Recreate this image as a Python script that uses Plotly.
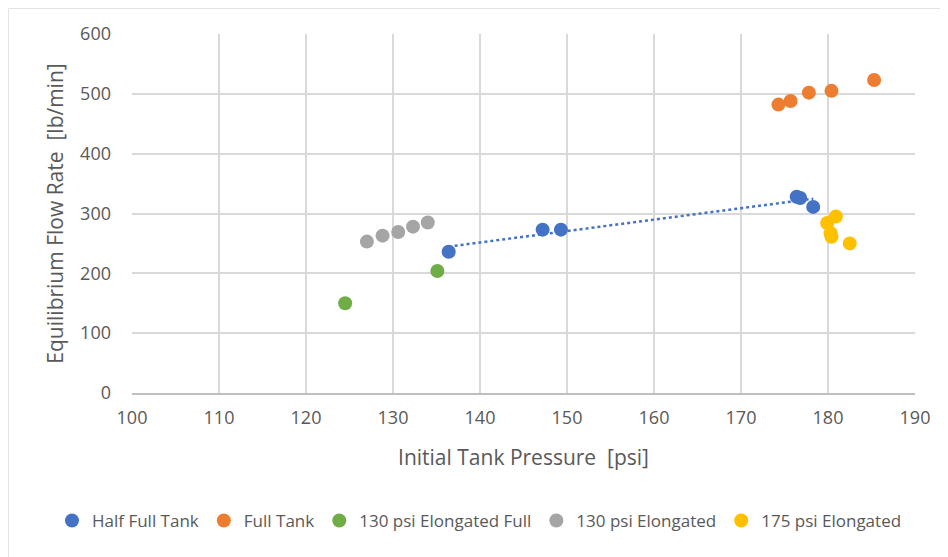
import numpy as np
import plotly.graph_objects as go

# Data
half_x = [136.4, 147.2, 149.3, 176.4, 176.8, 178.3]
half_y = [236, 273, 273, 328, 326, 311]

full_x = [174.3, 175.7, 177.8, 180.4, 185.3]
full_y = [482, 488, 502, 505, 523]

elong_full_x = [124.5, 135.1]
elong_full_y = [150, 204]

elong130_x = [127.0, 128.8, 130.6, 132.3, 134.0]
elong130_y = [253, 263, 269, 278, 285]

elong175_x = [180.9, 179.9, 180.3, 180.4, 182.5]
elong175_y = [295, 284, 267, 261, 250]

x_ticks = [100, 110, 120, 130, 140, 150, 160, 170, 180, 190]
y_ticks = [0, 100, 200, 300, 400, 500, 600]

colors = {
    "Half Full Tank": "#4472C4",
    "Full Tank": "#ED7D31",
    "130 psi Elongated Full": "#70AD47",
    "130 psi Elongated": "#A5A5A5",
    "175 psi Elongated": "#FFC000",
}

FONT = "Open Sans, Liberation Sans, sans-serif"
GRAY = "#595959"

W, H = 948, 557
L, R, T, B = 124, 41, 26, 172
PW, PH = W - L - R, H - T - B

fig = go.Figure()

series = [
    ("Half Full Tank", half_x, half_y),
    ("Full Tank", full_x, full_y),
    ("130 psi Elongated Full", elong_full_x, elong_full_y),
    ("130 psi Elongated", elong130_x, elong130_y),
    ("175 psi Elongated", elong175_x, elong175_y),
]

# Linear trendline for Half Full Tank
coef = np.polyfit(half_x, half_y, 1)
tx = np.array([min(half_x), max(half_x)])
ty = np.polyval(coef, tx)
fig.add_trace(go.Scatter(
    x=tx, y=ty, mode="lines",
    line=dict(color="#4472C4", width=2.5, dash="dot"),
    showlegend=False, hoverinfo="skip",
))

for name, xs, ys in series:
    fig.add_trace(go.Scatter(
        x=xs, y=ys, mode="markers", name=name,
        marker=dict(color=colors[name], size=14, line=dict(width=0)),
    ))

bx = (0.5 - L) / PW
by = 1 + (T - 0.5) / PH

fig.update_layout(
    width=W, height=H,
    margin=dict(l=L, r=R, t=T, b=B, autoexpand=False),
    paper_bgcolor="white", plot_bgcolor="white",
    font=dict(family=FONT, color=GRAY, size=18),
    legend=dict(
        orientation="h", xref="paper", yref="paper",
        x=(44 - L) / PW, xanchor="left", y=(PH + T - 513) / PH, yanchor="middle",
        font=dict(size=17, color=GRAY),
        itemwidth=30, tracegroupgap=0,
    ),
    xaxis=dict(
        range=[100, 190], tickvals=x_ticks, showgrid=True,
        gridcolor="#D9D9D9", gridwidth=1.5,
        showline=True, linecolor="#BFBFBF", linewidth=1.5,
        zeroline=False, ticks="", tickfont=dict(size=18, color=GRAY),
        ticklabelstandoff=8,
        title=dict(text="Initial Tank Pressure  [psi]", font=dict(size=21, color=GRAY), standoff=22),
    ),
    yaxis=dict(
        range=[0, 600], tickvals=y_ticks, showgrid=True,
        gridcolor="#D9D9D9", gridwidth=1.5,
        zeroline=False, ticks="", tickfont=dict(size=18, color=GRAY),
        ticklabelstandoff=20,
        title=dict(text="Equilibrium Flow Rate  [lb/min]", font=dict(size=21, color=GRAY), standoff=10),
    ),
    shapes=[
        dict(type="line", xref="paper", yref="paper", x0=bx, x1=1 + R / PW, y0=by, y1=by,
             line=dict(color="#E3E3E3", width=1)),
        dict(type="line", xref="paper", yref="paper", x0=bx, x1=bx, y0=by, y1=-B / PH,
             line=dict(color="#E3E3E3", width=1)),
    ],
)

fig.write_html("out.html")
